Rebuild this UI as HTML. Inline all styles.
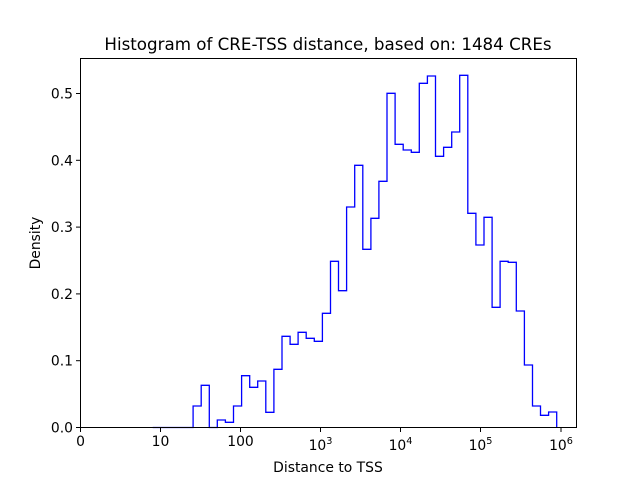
<!DOCTYPE html>
<html><head><meta charset="utf-8"><style>body{margin:0;background:#fff}svg{display:block}text{font-family:"DejaVu Sans","Liberation Sans",sans-serif;fill:#000}</style></head><body>
<svg width="640" height="480" viewBox="0 0 640 480" xmlns="http://www.w3.org/2000/svg">
<rect width="640" height="480" fill="#fff"/>
<path fill="none" stroke="#0000ff" stroke-width="1.3" stroke-linejoin="miter" d="M152.7,427.5 H193.1 V406 H201.2 V385.3 H209.3 V427.5 H217.3 V420 H225.4 V422.3 H233.5 V406 H241.6 V375.7 H249.7 V387.3 H257.7 V381 H265.8 V412.3 H273.9 V369.3 H282 V336.3 H290.1 V344.3 H298.1 V332.3 H306.2 V338.3 H314.3 V341.3 H322.4 V313.3 H330.5 V261.3 H338.5 V290.7 H346.6 V207 H354.7 V165.3 H362.8 V249.3 H370.9 V218.3 H378.9 V181.3 H387 V93.3 H395.1 V144.3 H403.2 V150 H411.3 V152.3 H419.3 V83.3 H427.4 V76 H435.5 V156.3 H443.6 V147.3 H451.7 V132 H459.7 V75.3 H467.8 V213.3 H475.9 V245 H484 V217.3 H492.1 V307.3 H500.1 V261.3 H508.2 V262.3 H516.3 V311 H524.4 V365 H532.5 V406 H540.5 V415.3 H548.6 V412 H556.7 V427.5"/>
<rect x="80.5" y="58.5" width="496" height="369" fill="none" stroke="#000" stroke-width="1"/>
<g stroke="#000" stroke-width="1">
<line x1="80.5" y1="428" x2="80.5" y2="432"/><line x1="160.5" y1="428" x2="160.5" y2="432"/><line x1="240.5" y1="428" x2="240.5" y2="432"/><line x1="320.5" y1="428" x2="320.5" y2="432"/><line x1="400.5" y1="428" x2="400.5" y2="432"/><line x1="480.5" y1="428" x2="480.5" y2="432"/><line x1="561" y1="428" x2="561" y2="432"/>
<line x1="76" y1="427.5" x2="80" y2="427.5"/><line x1="76" y1="360.7" x2="80" y2="360.7"/><line x1="76" y1="293.9" x2="80" y2="293.9"/><line x1="76" y1="227.1" x2="80" y2="227.1"/><line x1="76" y1="160.3" x2="80" y2="160.3"/><line x1="76" y1="93.5" x2="80" y2="93.5"/>
</g>
<g font-size="13.9" text-anchor="middle">
<text x="80.5" y="446">0</text><text x="160.5" y="446">10</text><text x="240.5" y="446">100</text>
<text x="320.5" y="450">10<tspan font-size="9.7" dy="-6">3</tspan></text>
<text x="400.5" y="450">10<tspan font-size="9.7" dy="-6">4</tspan></text>
<text x="480.5" y="450">10<tspan font-size="9.7" dy="-6">5</tspan></text>
<text x="561" y="450">10<tspan font-size="9.7" dy="-6">6</tspan></text>
</g>
<g font-size="13.9" text-anchor="end">
<text x="73" y="432.5">0.0</text><text x="73" y="365.7">0.1</text><text x="73" y="298.9">0.2</text><text x="73" y="232.1">0.3</text><text x="73" y="165.3">0.4</text><text x="73" y="98.5">0.5</text>
</g>
<text x="328" y="472" font-size="13.9" text-anchor="middle">Distance to TSS</text>
<text transform="translate(40,243) rotate(-90)" font-size="13.9" text-anchor="middle">Density</text>
<text x="328" y="50" font-size="16.7" text-anchor="middle">Histogram of CRE-TSS distance, based on: 1484 CREs</text>
</svg>
</body></html>
